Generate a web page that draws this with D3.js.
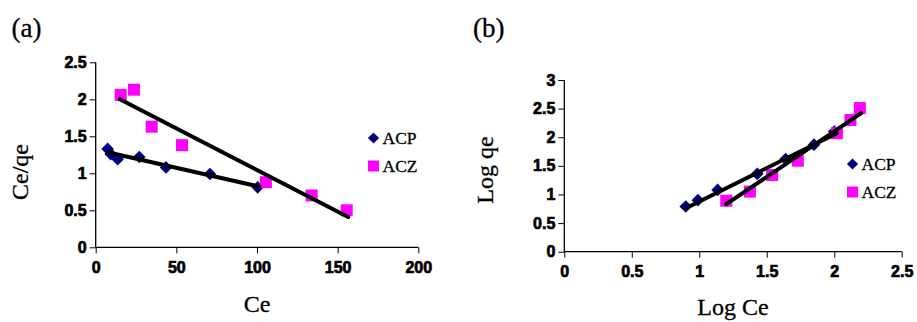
<!DOCTYPE html>
<html><head><meta charset="utf-8">
<script src="https://cdn.jsdelivr.net/npm/d3@7"></script>
<style>body{margin:0;background:#fff}svg{display:block}</style>
</head><body>
<script>
// Panel (a): Ce/qe vs Ce
const aXTicks = [0, 50, 100, 150, 200];
const aYTicks = [0, 0.5, 1, 1.5, 2, 2.5];
const aACPx = [7.4, 9.3, 13.6, 27, 43.6, 70.8, 100.4];
const aACPy = [1.33, 1.26, 1.19, 1.22, 1.08, 0.99, 0.81];
const aACZx = [15.5, 23.7, 34.7, 53.5, 105.5, 133.9, 155.6];
const aACZy = [2.06, 2.13, 1.63, 1.38, 0.88, 0.70, 0.50];
const aACPfitX = [7.4, 101.5], aACPfitY = [1.285, 0.82];
const aACZfitX = [15, 156.5], aACZfitY = [2.0, 0.41];

// Panel (b): Log qe vs Log Ce
const bXTicks = [0, 0.5, 1, 1.5, 2, 2.5];
const bYTicks = [0, 0.5, 1, 1.5, 2, 2.5, 3];
const bACPx = [0.90, 0.99, 1.136, 1.43, 1.64, 1.85, 2.0];
const bACPy = [0.79, 0.90, 1.08, 1.36, 1.62, 1.87, 2.10];
const bACZx = [1.20, 1.375, 1.54, 1.73, 2.02, 2.12, 2.19];
const bACZy = [0.89, 1.05, 1.34, 1.59, 2.07, 2.30, 2.51];
const bACPfitX = [0.90, 2.02], bACPfitY = [0.76, 2.07];
const bACZfitX = [1.20, 2.20], bACZfitY = [0.83, 2.42];

const seriesNames = ["ACP", "ACZ"];
const colors = {ACP: "#000080", ACZ: "#ff00ff"};
const SERIF = "'Liberation Serif', 'Times New Roman', serif";
const SANS = "'Liberation Sans', Arial, sans-serif";

const svg = d3.select("body").append("svg").attr("width", 917).attr("height", 322);

function serifText(sel, size) {
  return sel.style("font-family", SERIF).style("font-size", size + "px").style("fill", "#000")
    .style("stroke", "#000").style("stroke-width", "0.3px");
}

function panel(o) {
  const g = svg.append("g");
  const x = d3.scaleLinear().domain(o.xDom).range([o.x0, o.x1]);
  const y = d3.scaleLinear().domain(o.yDom).range([o.y0, o.y1]);
  const xa = g.append("g").attr("transform", `translate(0,${o.y0})`)
    .call(d3.axisBottom(x).tickValues(o.xTicks).tickSize(6).tickPadding(8).tickFormat(d3.format("")));
  const ya = g.append("g").attr("transform", `translate(${o.x0},0)`)
    .call(d3.axisLeft(y).tickValues(o.yTicks).tickSize(6).tickPadding(3).tickFormat(d3.format("")));
  [xa, ya].forEach(a => {
    a.select(".domain").attr("stroke", "#000").attr("stroke-width", 1.3);
    a.selectAll(".tick line").attr("stroke", "#000").attr("stroke-width", 1);
    a.selectAll(".tick text")
      .style("font-family", SANS).style("font-weight", "700").style("font-size", "16px")
      .style("fill", "#000").style("stroke", "#000").style("stroke-width", "0.7px");
  });
  xa.select(".domain").attr("d", `M${o.x0},0H${o.x1}`);
  ya.select(".domain").attr("d", `M0,${o.y0}V${o.y1}`);
  xa.selectAll(".tick text").attr("dy", "0.71em");

  const line = d3.line().x(d => x(d[0])).y(d => y(d[1]));
  g.append("g").selectAll("path").data(o.acpX.map((v, i) => [v, o.acpY[i]])).join("path")
    .attr("d", d3.symbol().type(d3.symbolSquare).size(80)())
    .attr("transform", d => `translate(${x(d[0])},${y(d[1])}) rotate(45)`)
    .attr("fill", colors.ACP);
  g.append("g").selectAll("rect").data(o.aczX.map((v, i) => [v, o.aczY[i]])).join("rect")
    .attr("x", d => x(d[0]) - 6).attr("y", d => y(d[1]) - 6).attr("width", 12).attr("height", 12)
    .attr("fill", colors.ACZ);
  [[o.acpFX, o.acpFY], [o.aczFX, o.aczFY]].forEach(([fx, fy]) => {
    g.append("path").datum(fx.map((v, i) => [v, fy[i]])).attr("d", line)
      .attr("stroke", "#000").attr("stroke-width", 4).attr("fill", "none").attr("stroke-linecap", "round");
  });
  seriesNames.forEach((s, i) => {
    const ly = o.legY + i * 28;
    if (s === "ACP") {
      g.append("path").attr("d", d3.symbol().type(d3.symbolSquare).size(62)())
        .attr("transform", `translate(${o.legX},${ly}) rotate(45)`).attr("fill", colors.ACP);
    } else {
      g.append("rect").attr("x", o.legX - 5.5).attr("y", ly - 5.5).attr("width", 11).attr("height", 11).attr("fill", colors.ACZ);
    }
    serifText(g.append("text").attr("x", o.legX + 9).attr("y", ly + 6).text(s), 17.5);
  });
  serifText(g.append("text").attr("x", o.labelX).attr("y", 37).text(o.label), 27);
  serifText(g.append("text").attr("x", (o.x0 + o.x1) / 2).attr("y", o.xtY).attr("text-anchor", "middle").text(o.xTitle), 24);
  serifText(g.append("text").attr("transform", `translate(${o.ytX},${o.ytY}) rotate(-90)`).attr("text-anchor", "middle").text(o.yTitle), 24);
}

panel({xDom: [0, 200], yDom: [0, 2.5], x0: 95.7, x1: 418.3, y0: 247.3, y1: 62.3,
  xTicks: aXTicks, yTicks: aYTicks, acpX: aACPx, acpY: aACPy, aczX: aACZx, aczY: aACZy,
  acpFX: aACPfitX, acpFY: aACPfitY, aczFX: aACZfitX, aczFY: aACZfitY,
  legX: 373.5, legY: 138, label: "(a)", labelX: 11.5, xTitle: "Ce", xtY: 312, yTitle: "Ce/qe", ytX: 28, ytY: 172});

panel({xDom: [0, 2.5], yDom: [0, 3], x0: 564.3, x1: 901.7, y0: 251.7, y1: 80,
  xTicks: bXTicks, yTicks: bYTicks, acpX: bACPx, acpY: bACPy, aczX: bACZx, aczY: bACZy,
  acpFX: bACPfitX, acpFY: bACPfitY, aczFX: bACZfitX, aczFY: bACZfitY,
  legX: 852.5, legY: 164, label: "(b)", labelX: 473, xTitle: "Log Ce", xtY: 315, yTitle: "Log qe", ytX: 493, ytY: 170});
</script>
</body></html>
